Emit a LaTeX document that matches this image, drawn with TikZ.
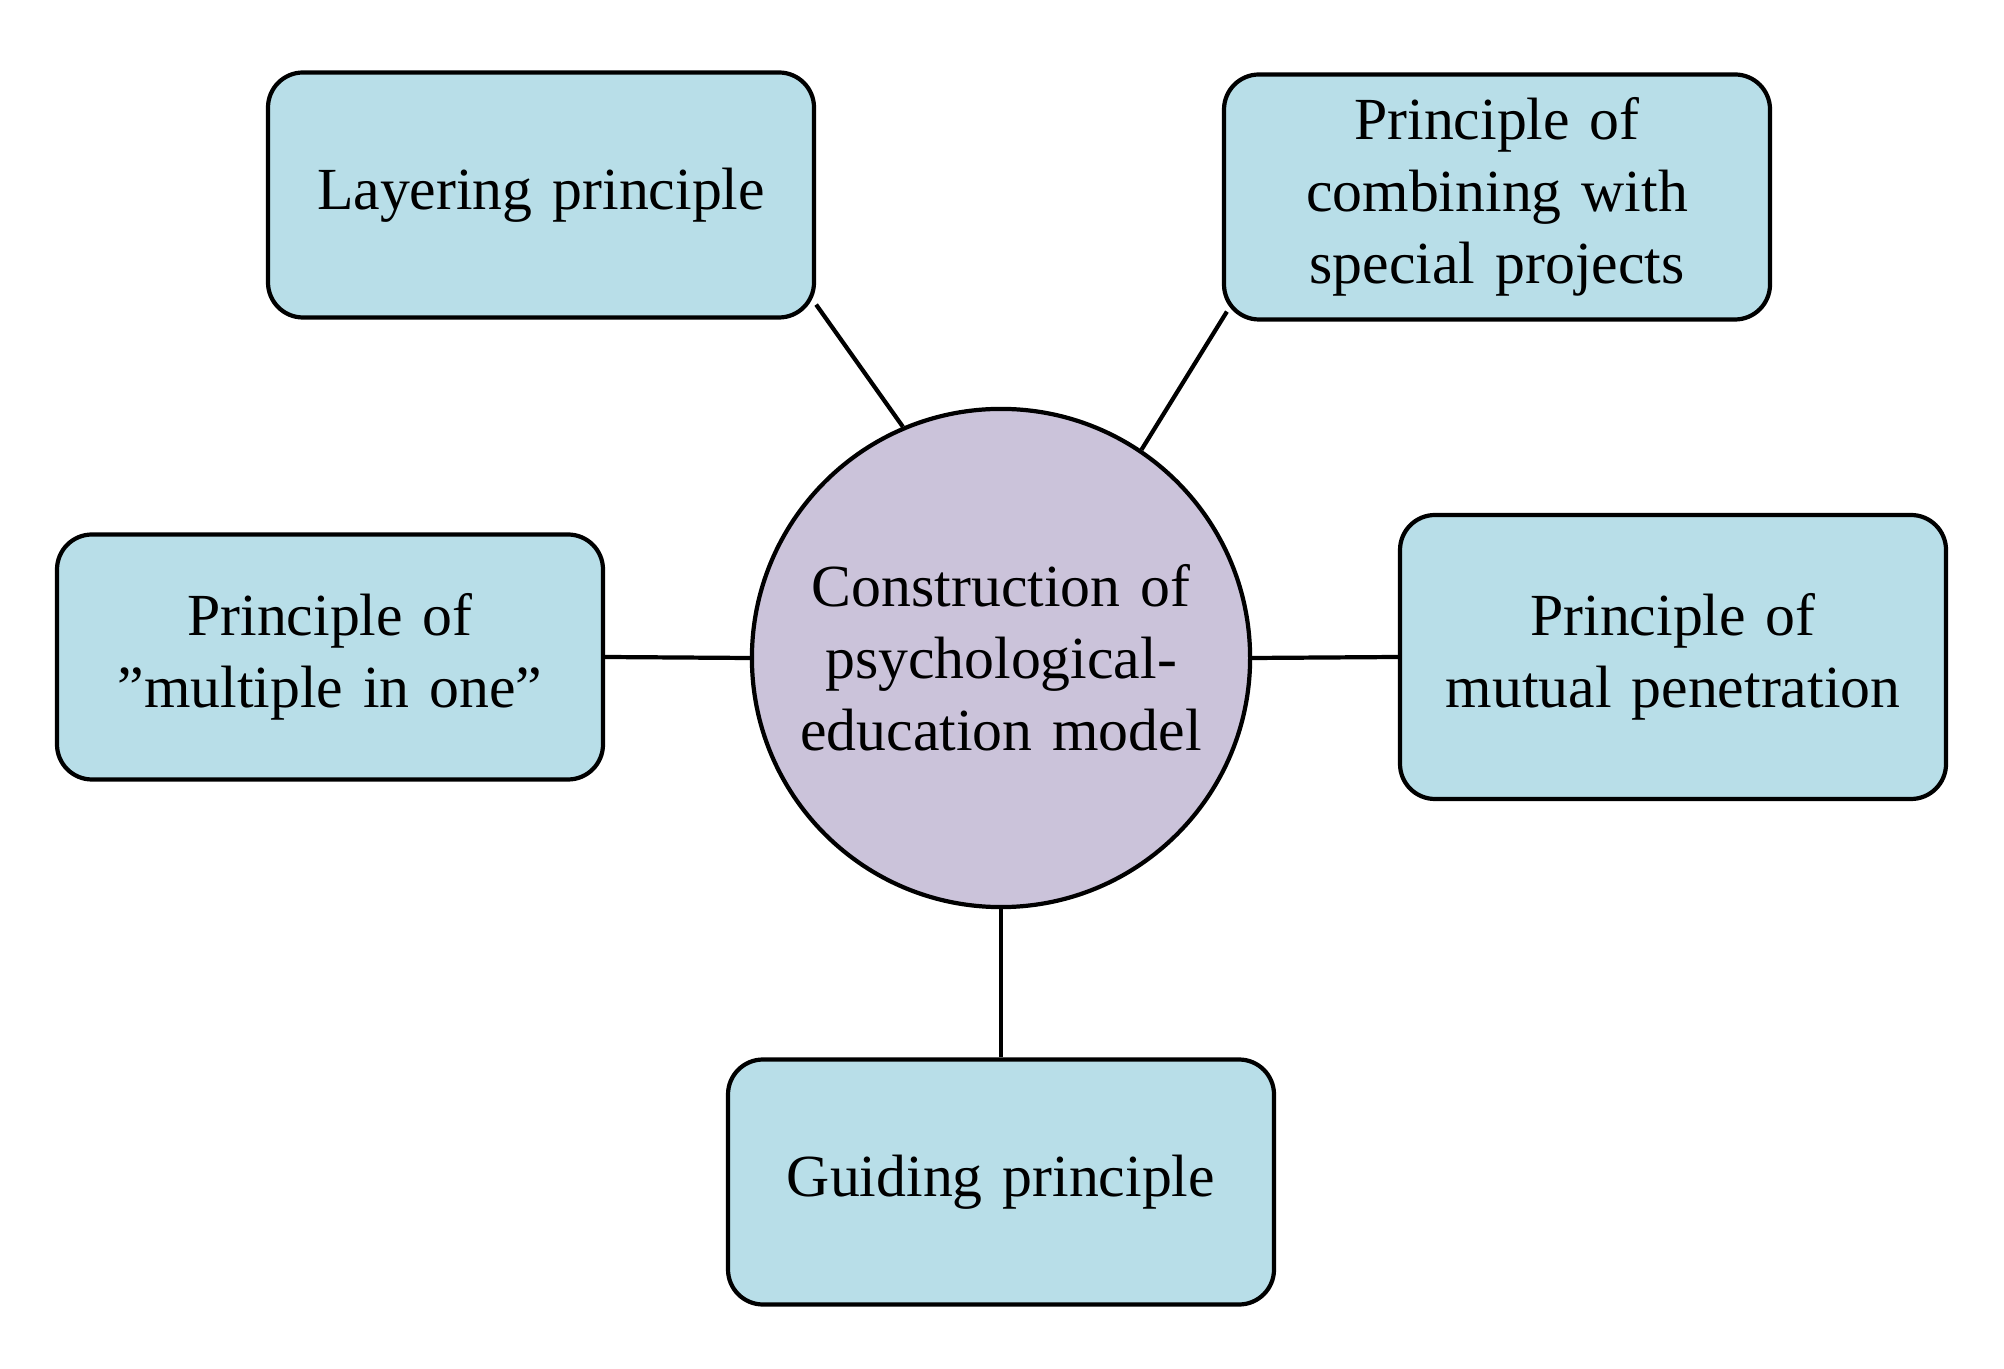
\documentclass[tikz,border=0pt]{standalone}
\usepackage{fontspec}
\setmainfont{Liberation Serif}
\definecolor{boxblue}{HTML}{B8DEE8}
\definecolor{circlilac}{HTML}{CBC3DA}
\begin{document}
\begin{tikzpicture}
%%%%%%%%%%%%%%%%%%%%%%%%%%%%%%%%%%%%%%%%%%%%%%%%%%%%%%%%
% STYLE
\tikzstyle{box}=[rectangle,rounded corners=0.35cm,draw,line width=1.2pt,fill=boxblue,minimum width=5.46cm,minimum height=2.45cm,text width=5.2cm,align=center,font=\fontsize{17}{20.5}\selectfont]
\tikzstyle{hub}=[circle,draw,line width=1.2pt,fill=circlilac,minimum size=4.94cm,text width=4.3cm,align=center,font=\fontsize{17}{20.5}\selectfont]

\tikzset{link/.style={line width=1.2pt}}

\useasboundingbox (0,0) rectangle (20.04,13.68);

%%%%%%%%%%%%%%%%%%%%%%%%%%%%%%%%%%%%%%%%%%%%%%%%%%%%%%%%
% NODES
\node[hub] (C) at (10.01, 7.10) {Construction of psychological-education model};

\node[box] (L) at (5.41, 11.73) {Layering principle};
\node[box] (S) at (14.97, 11.71) {Principle of\\ combining with\\ special projects};
\node[box] (M) at (3.30, 7.11) {Principle of "multiple in one"};
\node[box, minimum height=2.84cm] (P) at (16.73, 7.11) {Principle of mutual penetration};
\node[box] (G) at (10.01, 1.86) {Guiding principle};

%%%%%%%%%%%%%%%%%%%%%%%%%%%%%%%%%%%%%%%%%%%%%%%%%%%%%%%%
% LINKS
\draw[link] (L.south east) ++(0,0.15) coordinate (l1) -- (C.113);
\draw[link] (S.south west) ++(0.05,0.1) coordinate (s1) -- (C.56);
\draw[link] (M.east) -- (C.west);
\draw[link] (P.west) -- (C.east);
\draw[link] (G.north) -- (C.south);

\end{tikzpicture}
\end{document}
